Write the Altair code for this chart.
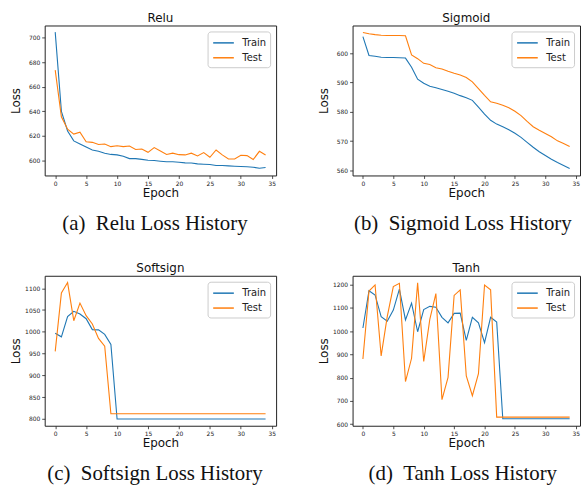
import altair as alt
import pandas as pd

epochs = list(range(35))

relu_train = [704.3, 640.0, 624.0, 616.0, 613.5, 611.0, 608.6, 607.5, 606.0, 605.0,
              604.6, 603.5, 601.6, 601.6, 601.0, 600.3, 600.0, 599.5, 599.0, 599.0,
              598.7, 598.1, 598.0, 597.3, 597.0, 596.8, 596.0, 596.0, 595.7, 595.4,
              595.2, 595.0, 594.6, 593.8, 594.4]
relu_test = [673.4, 635.5, 625.5, 621.5, 623.0, 615.3, 614.8, 613.0, 613.4, 611.3,
             612.0, 611.3, 611.8, 609.0, 609.4, 606.7, 610.5, 607.8, 605.0, 606.0,
             604.8, 604.6, 606.0, 603.8, 606.5, 602.7, 608.6, 604.6, 601.3, 601.3,
             604.3, 604.0, 600.8, 607.5, 604.6]

sigmoid_train = [605.6, 599.2, 598.9, 598.6, 598.5, 598.5, 598.4, 598.3, 595.2, 591.1,
                 589.7, 588.7, 588.2, 587.6, 587.0, 586.3, 585.5, 584.8, 583.9, 581.6,
                 579.2, 577.1, 575.8, 574.9, 573.9, 572.7, 571.3, 569.6, 567.9, 566.4,
                 565.1, 563.8, 562.7, 561.7, 560.7]
sigmoid_test = [607.0, 606.6, 606.3, 606.1, 606.0, 606.0, 606.0, 605.9, 599.4, 598.1,
                596.5, 596.1, 595.0, 594.6, 593.8, 593.1, 592.5, 591.7, 590.2, 587.9,
                585.6, 583.4, 582.9, 582.2, 581.4, 580.2, 578.7, 576.7, 574.9, 573.7,
                572.6, 571.5, 570.1, 569.2, 568.2]

softsign_train = [996.5, 988.5, 1035.0, 1047.0, 1041.0, 1030.0, 1005.0, 1004.5, 994.0, 971.0,
                  800.0, 800.0, 800.0, 800.0, 800.0, 800.0, 800.0, 800.0, 800.0, 800.0,
                  800.0, 800.0, 800.0, 800.0, 800.0, 800.0, 800.0, 800.0, 800.0, 800.0,
                  800.0, 800.0, 800.0, 800.0, 800.0]
softsign_test = [955.0, 1089.0, 1113.0, 1025.5, 1066.0, 1037.0, 1018.0, 985.0, 967.0, 812.0,
                 812.0, 812.0, 812.0, 812.0, 812.0, 812.0, 812.0, 812.0, 812.0, 812.0,
                 812.0, 812.0, 812.0, 812.0, 812.0, 812.0, 812.0, 812.0, 812.0, 812.0,
                 812.0, 812.0, 812.0, 812.0, 812.0]

tanh_train = [1013.0, 1173.0, 1155.0, 1062.0, 1042.0, 1090.0, 1180.0, 1048.0, 1120.0, 997.0,
              1092.0, 1106.0, 1102.0, 1059.0, 1035.0, 1076.0, 1077.0, 960.0, 1059.0, 1035.0,
              950.0, 1059.0, 1039.0, 623.0, 623.0, 623.0, 623.0, 623.0, 623.0, 623.0,
              623.0, 623.0, 623.0, 623.0, 623.0]
tanh_test = [880.0, 1172.0, 1198.0, 893.0, 1062.0, 1191.0, 1205.0, 783.0, 883.0, 1207.0,
             869.0, 1050.0, 1161.0, 705.0, 801.0, 1153.0, 1177.0, 807.0, 722.0, 817.0,
             1198.0, 1177.0, 630.0, 630.0, 630.0, 630.0, 630.0, 630.0, 630.0, 630.0,
             630.0, 630.0, 630.0, 630.0, 630.0]

titles = ["Relu", "Sigmoid", "Softsign", "Tanh"]
captions = ["(a)\u00a0\u00a0Relu Loss History", "(b)\u00a0\u00a0Sigmoid Loss History",
            "(c)\u00a0\u00a0Softsign Loss History", "(d)\u00a0\u00a0Tanh Loss History"]
series_names = ["Train", "Test"]
series_colors = ["#1f77b4", "#ff7f0e"]
x_ticks = [0, 5, 10, 15, 20, 25, 30, 35]
y_ticks = [
    [600, 620, 640, 660, 680, 700],
    [560, 570, 580, 590, 600],
    [800, 850, 900, 950, 1000, 1050, 1100],
    [600, 700, 800, 900, 1000, 1100, 1200],
]
y_domains = [[587.9, 709.7], [558.3, 609.4], [784.4, 1128.6], [593.0, 1237.5]]

H = 151
widths = [233, 229, 233, 229]


def panel(i, train, test):
    df = pd.DataFrame({
        "Epoch": epochs + epochs,
        "Loss": train + test,
        "series": [series_names[0]] * len(epochs) + [series_names[1]] * len(epochs),
        "ord": [0] * len(epochs) + [1] * len(epochs),
    })
    lines = alt.Chart(df).mark_line(strokeWidth=1.1).encode(
        x=alt.X("Epoch:Q",
                scale=alt.Scale(domain=[-1.7, 35.7], nice=False, zero=False),
                axis=alt.Axis(values=x_ticks, title="Epoch", format="d",
                              titleFontWeight="normal", titlePadding=1)),
        y=alt.Y("Loss:Q",
                scale=alt.Scale(domain=y_domains[i], nice=False, zero=False),
                axis=alt.Axis(values=y_ticks[i], title="Loss", format="d",
                              titleFontWeight="normal", minExtent=15, maxExtent=15,
                              titlePadding=7)),
        color=alt.Color("series:N",
                        scale=alt.Scale(domain=series_names, range=series_colors),
                        legend=alt.Legend(title=None, orient="top-right", offset=6,
                                          symbolType="M-0.9,0H2.3", symbolSize=169,
                                          symbolStrokeWidth=1.5, labelFontSize=10,
                                          labelFont="DejaVu Sans", labelColor="#222",
                                          rowPadding=2, padding=4,
                                          strokeColor="#cccccc", fillColor="white",
                                          cornerRadius=3, labelOffset=16)),
        order=alt.Order("ord:Q"),
    )
    cap = alt.Chart(pd.DataFrame({"t": [captions[i]]})).mark_text(
        font="Liberation Serif", fontSize=21, align="center", baseline="middle",
        color="#111"
    ).encode(text="t:N", x=alt.value(111), y=alt.value(200))
    return alt.layer(lines, cap).properties(
        width=widths[i], height=H,
        title=alt.TitleParams(text=titles[i], fontSize=12, font="DejaVu Sans",
                              fontWeight="normal", offset=1, color="#111"),
    )


p1 = panel(0, relu_train, relu_test)
p2 = panel(1, sigmoid_train, sigmoid_test)
p3 = panel(2, softsign_train, softsign_test)
p4 = panel(3, tanh_train, tanh_test)

row1 = alt.hconcat(p1, p2, spacing=40).resolve_scale(color="independent")
row2 = alt.hconcat(p3, p4, spacing=40).resolve_scale(color="independent")

chart = alt.vconcat(row1, row2, spacing=26).resolve_scale(color="independent").properties(
    padding={"left": 9, "top": 9, "right": 0, "bottom": 0},
    background="white",
).configure_view(
    stroke="#222", strokeWidth=1
).configure_axis(
    domain=False, grid=False, ticks=True, tickSize=3, tickColor="#222", tickWidth=0.8,
    labelFont="DejaVu Sans", labelFontSize=6, labelColor="#222", labelPadding=2,
    titleFont="DejaVu Sans", titleFontSize=12, titleFontWeight="normal", titleColor="#111",
)

chart.save("out.html", embed_options={"renderer": "svg", "actions": False})
